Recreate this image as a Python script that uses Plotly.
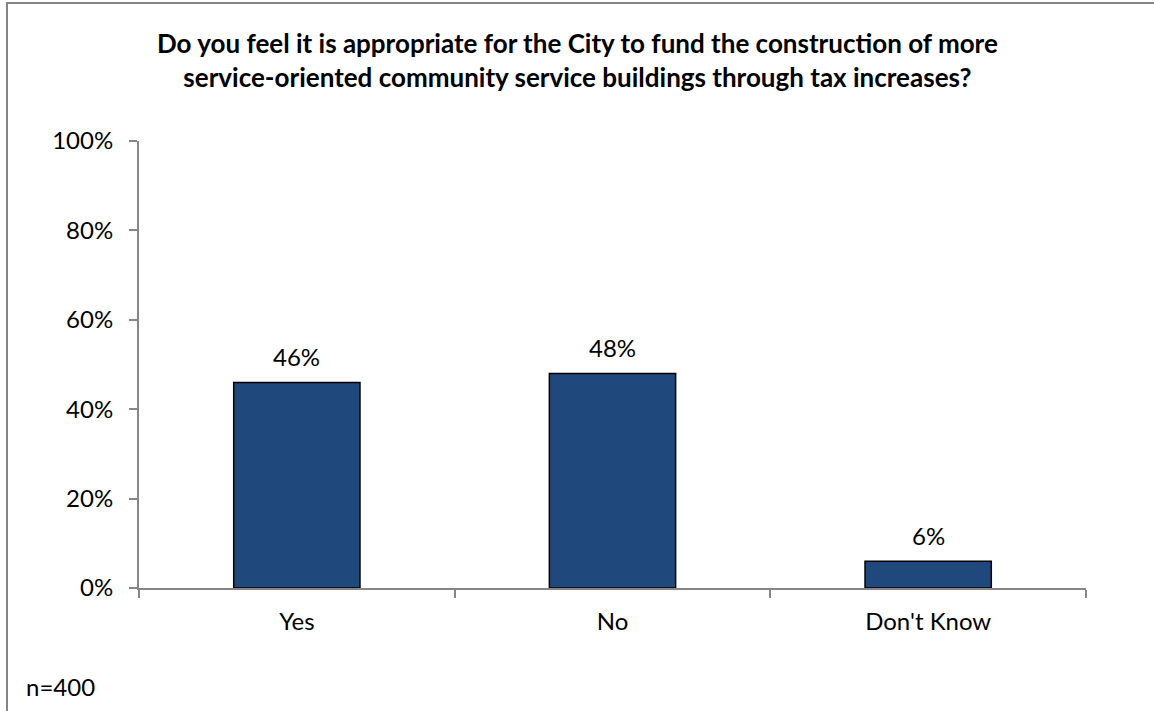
import plotly.graph_objects as go

# Survey responses (share of respondents)
categories = ["Yes", "No", "Don't Know"]
shares = [0.46, 0.48, 0.06]
y_ticks = [0, 0.2, 0.4, 0.6, 0.8, 1.0]
y_tick_labels = ["0%", "20%", "40%", "60%", "80%", "100%"]

title_text = ("Do you feel it is appropriate for the City to fund the construction of more<br>"
              "service-oriented community service buildings through tax increases?")
sample_note = "n=400"

W, H = 1154, 711
ML, MR, MT, MB = 139, 68, 141, 123
PW, PH = W - ML - MR, H - MT - MB

FONT = "Lato"
AXIS_GREY = "#868686"
BAR_BLUE = "#1F497C"
LABEL_SIZE = 24

fig = go.Figure()
fig.add_trace(go.Bar(
    x=categories,
    y=shares,
    width=0.4,
    marker=dict(color=BAR_BLUE, line=dict(color="black", width=1.5)),
    hoverinfo="skip",
))

# value labels above each bar
for cat, v in zip(categories, shares):
    fig.add_annotation(
        x=cat, y=v, text=f"{round(v * 100)}%", showarrow=False,
        yanchor="bottom", yshift=9,
        font=dict(family=FONT, size=LABEL_SIZE, color="black"),
    )

def px_to_paper_x(px):
    return (px - ML) / PW

def px_to_paper_y(py):
    return (H - MB - py) / PH

# outer chart frame (runs past the right and bottom edges)
fig.add_shape(
    type="rect", xref="paper", yref="paper",
    x0=px_to_paper_x(7), x1=px_to_paper_x(W + 20),
    y0=px_to_paper_y(H + 20), y1=px_to_paper_y(3),
    line=dict(color="#858585", width=2), fillcolor="rgba(0,0,0,0)", layer="below",
)

fig.add_annotation(
    xref="paper", yref="paper", x=px_to_paper_x(577), y=px_to_paper_y(60),
    text=title_text, showarrow=False, xanchor="center", yanchor="middle",
    font=dict(family=FONT, size=26, color="black", weight="bold"),
)

fig.add_annotation(
    xref="paper", yref="paper", x=px_to_paper_x(24), y=px_to_paper_y(686),
    text=sample_note, showarrow=False, xanchor="left", yanchor="middle",
    font=dict(family=FONT, size=LABEL_SIZE, color="black"),
)

fig.update_layout(
    width=W, height=H,
    margin=dict(l=ML, r=MR, t=MT, b=MB, pad=0),
    paper_bgcolor="white", plot_bgcolor="white",
    showlegend=False,
    bargap=0.6,
    font=dict(family=FONT, size=LABEL_SIZE, color="black"),
)
fig.update_xaxes(
    showline=True, linecolor=AXIS_GREY, linewidth=2,
    ticks="outside", ticklen=8, tickcolor=AXIS_GREY, tickwidth=2,
    tickson="boundaries", showgrid=False, ticklabelstandoff=11,
    tickfont=dict(family=FONT, size=LABEL_SIZE, color="black"),
)
fig.update_yaxes(
    range=[0, 1], tickvals=y_ticks, ticktext=y_tick_labels,
    showline=True, linecolor=AXIS_GREY, linewidth=2,
    ticks="outside", ticklen=8, tickcolor=AXIS_GREY, tickwidth=2,
    showgrid=False, zeroline=False, ticklabelstandoff=11,
    tickfont=dict(family=FONT, size=LABEL_SIZE, color="black"),
)

fig.write_html("out.html")
